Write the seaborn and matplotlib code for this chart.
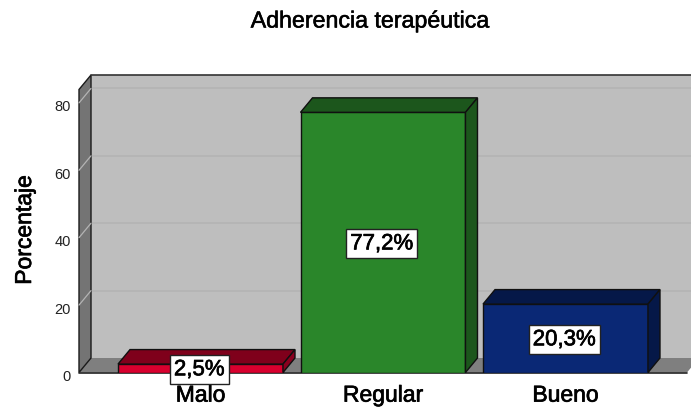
import matplotlib
matplotlib.use("Agg")
import matplotlib.pyplot as plt
import matplotlib.patheffects as pe
from matplotlib.patches import Polygon
from matplotlib.transforms import ScaledTranslation
import seaborn as sns
import pandas as pd

categories = ["Malo", "Regular", "Bueno"]
values = [2.5, 77.2, 20.3]
labels = ["2,5%", "77,2%", "20,3%"]
y_ticks = [0, 20, 40, 60, 80]
title = "Adherencia terapéutica"
y_label = "Porcentaje"

front_colors = ["#D8002E", "#2A862A", "#0A2875"]
top_colors = ["#7F001B", "#1C561C", "#051848"]
side_colors = ["#8A001E", "#1C561C", "#051848"]

W, H = 691, 407
sns.set_theme(style="white")
plt.rcParams["font.family"] = ["Liberation Sans", "DejaVu Sans"]

fig = plt.figure(figsize=(W / 100, H / 100), dpi=100, facecolor="white")
left, right, base, top = 79, 691, 372.5, 75
ax = fig.add_axes([left / W, 1 - base / H, (right - left) / W, (base - top) / H])
px_x, px_y = 182.5, 3.37
ax.set_xlim((left - 200.5) / px_x, (right - 200.5) / px_x)
ax.set_ylim(0, (base - top) / px_y)
dx, dy = 12 / px_x, 14.5 / px_y
xl, xr = ax.get_xlim()
ymax = ax.get_ylim()[1]
ytop = ymax - dy
ax.patch.set_alpha(0)
for s in ax.spines.values():
    s.set_visible(False)

df = pd.DataFrame({"cat": categories, "val": values})
sns.barplot(data=df, x="cat", y="val", hue="cat", palette=front_colors, order=categories,
            hue_order=categories, width=0.904, dodge=False, legend=False, ax=ax,
            edgecolor="#101010", linewidth=1.0, zorder=5, saturation=1)
ax.set_xlim(xl, xr)
ax.set_ylim(0, ymax)

# walls and floor
edge = "#1a1a1a"
xf = xr - 4 / px_x
ax.add_patch(Polygon([(xl + dx, dy), (xr, dy), (xr, ymax), (xl + dx, ymax)], fc="#BEBEBE", ec="none", zorder=0.5, clip_on=False))
ax.add_patch(Polygon([(xl, 0), (xf, 0), (xf + dx, dy), (xl + dx, dy)], fc="#7F7F7F", ec="none", zorder=1, clip_on=False))
ax.add_patch(Polygon([(xl, 0), (xl, ytop), (xl + dx, ymax), (xl + dx, dy)], fc="#747474", ec=edge, lw=1.0, zorder=2, clip_on=False))
for v in y_ticks[1:]:
    ax.plot([xl + dx, xr], [v + dy, v + dy], color="#B4B4B4", lw=1.2, zorder=1)
    ax.plot([xl, xl + dx], [v, v + dy], color="#B4B4B4", lw=0.9, zorder=3, clip_on=False)
ax.plot([xl + dx, xr], [ymax, ymax], color="#333333", lw=1.2, zorder=3, clip_on=False)
ax.plot([xl, xf], [0, 0], color="#222222", lw=1.2, zorder=4, clip_on=False)

stroke = [pe.withStroke(linewidth=0.5, foreground="black")]
down = ScaledTranslation(0, -1.5 / 100, fig.dpi_scale_trans)

# 3D faces of the bars
half = 0.904 / 2
for i, v in enumerate(values):
    ax.add_patch(Polygon([(i - half, v), (i + half, v), (i + half + dx, v + dy), (i - half + dx, v + dy)],
                         fc=top_colors[i], ec="#101010", lw=1.0, zorder=5))
    ax.add_patch(Polygon([(i + half, 0), (i + half, v), (i + half + dx, v + dy), (i + half + dx, dy)],
                         fc=side_colors[i], ec="#101010", lw=1.0, zorder=5))
    ax.text(i - 0.007, v / 2, labels[i], ha="center", va="center", fontsize=16, color="black",
            path_effects=stroke, zorder=8, clip_on=False, transform=ax.transData + down,
            bbox=dict(boxstyle="square,pad=0.18", fc="white", ec="#222222", lw=1.0, path_effects=[]))

ax.set_yticks(y_ticks)
ax.set_yticklabels([str(t) for t in y_ticks], fontsize=10.5, color="#222222")
ax.tick_params(axis="y", length=0, pad=6)
shift = ScaledTranslation(0, -3 / 100, fig.dpi_scale_trans)
for t in ax.get_yticklabels():
    t.set_transform(t.get_transform() + shift)
ax.set_xticks(range(len(categories)))
ax.set_xticklabels(categories, fontsize=16.5, path_effects=stroke, color="black")
ax.tick_params(axis="x", length=0, pad=8)
ax.set_xlabel("")
ax.set_ylabel("")

fig.text(24.5 / W, 1 - 230 / H, y_label, rotation=90, ha="center", va="center", fontsize=16.5, color="black",
         path_effects=stroke)
fig.text(369.5 / W, 1 - 21 / H, title, ha="center", va="center", fontsize=16.7, color="black",
         path_effects=[pe.withStroke(linewidth=0.4, foreground="black")])

fig.savefig("out.png", dpi=100, facecolor="white")
